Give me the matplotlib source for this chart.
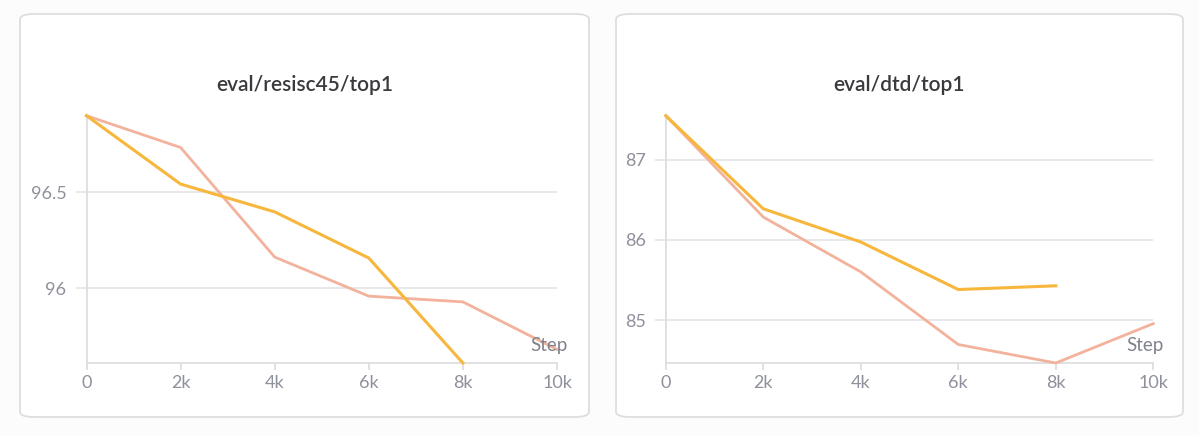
import matplotlib
matplotlib.use("Agg")
import matplotlib.pyplot as plt
from matplotlib.patches import FancyBboxPatch

plt.rcParams['font.family'] = ['Lato', 'DejaVu Sans']

steps = [0, 2000, 4000, 6000, 8000, 10000]
xtick_vals = [0, 2000, 4000, 6000, 8000, 10000]
xtick_labels = ["0", "2k", "4k", "6k", "8k", "10k"]

resisc_titles = "eval/resisc45/top1"
resisc_orange = [96.90, 96.543, 96.398, 96.157, 95.609]
resisc_pink = [96.90, 96.734, 96.162, 95.958, 95.928, 95.68]
resisc_yticks = [96.0, 96.5]
resisc_yticklabels = ["96", "96.5"]

dtd_title = "eval/dtd/top1"
dtd_orange = [87.546, 86.388, 85.975, 85.384, 85.43]
dtd_pink = [87.546, 86.285, 85.603, 84.70, 84.47, 84.96]
dtd_yticks = [85, 86, 87]
dtd_yticklabels = ["85", "86", "87"]

ORANGE = "#F6B73C"
PINK = "#F3B29C"
GRID = "#e4e4e8"
TICK = "#8e909c"

W, H = 1199, 436
fig = plt.figure(figsize=(W / 100, H / 100), dpi=100)
fig.patch.set_facecolor("#fcfcfc")

def px(x0, y0, x1, y1):
    return [x0 / W, 1 - y1 / H, (x1 - x0) / W, (y1 - y0) / H]

def panel(x0, x1):
    p = FancyBboxPatch((x0 / W, 1 - 417 / H), (x1 - x0) / W, (417 - 14) / H,
                       boxstyle="round,pad=0,rounding_size=0.012",
                       transform=fig.transFigure, facecolor="white",
                       edgecolor="#dedede", linewidth=1.3, zorder=-5)
    fig.patches.append(p)

def draw(rect, title, title_x, orange, pink, ylim, yt, ytl, step_x):
    ax = fig.add_axes(rect)
    ax.set_zorder(2)
    ax.set_facecolor("none")
    ax.plot(steps[:len(pink)], pink, color=PINK, lw=2.0, clip_on=False, zorder=3)
    ax.plot(steps[:len(orange)], orange, color=ORANGE, lw=2.2, clip_on=False, zorder=4)
    ax.set_xlim(0, 10000)
    ax.set_ylim(*ylim)
    ax.set_xticks(xtick_vals)
    ax.set_xticklabels(xtick_labels)
    ax.set_yticks(yt)
    ax.set_yticklabels(ytl)
    for s in ["top", "right"]:
        ax.spines[s].set_visible(False)
    for s in ["left", "bottom"]:
        ax.spines[s].set_color("#dcdcdf")
        ax.spines[s].set_linewidth(1.2)
    ax.grid(axis="y", color=GRID, lw=1.2, zorder=1)
    ax.tick_params(axis="y", length=8, color=GRID, width=1.2, pad=6.5,
                   labelcolor=TICK, labelsize=13)
    ax.tick_params(axis="x", length=5, color="#dcdcdf", width=1.2, pad=3.5,
                   labelcolor=TICK, labelsize=13)
    ax.set_axisbelow(True)
    ax.text(1.0 + (step_x - (rect[0] + rect[2]) * W) / (rect[2] * W), (363 - 351) / 247.3,
            "Step", transform=ax.transAxes, ha="right", va="baseline",
            fontsize=13.5, color="#80828c", zorder=10)
    fig.text(title_x / W, 1 - 91 / H, title, ha="center", va="baseline",
             fontsize=15, fontweight="semibold", color="#3a3a3e")
    return ax

panel(20, 589)
panel(616, 1183)

draw(px(86.5, 115.7, 557, 363), resisc_titles, 304.5, resisc_orange, resisc_pink,
     (95.609, 96.90), resisc_yticks, resisc_yticklabels, 568)
draw(px(665.8, 115.7, 1153.3, 363), dtd_title, 899.5, dtd_orange, dtd_pink,
     (84.47, 87.546), dtd_yticks, dtd_yticklabels, 1164)

fig.savefig("out.png", dpi=100, facecolor=fig.get_facecolor())
